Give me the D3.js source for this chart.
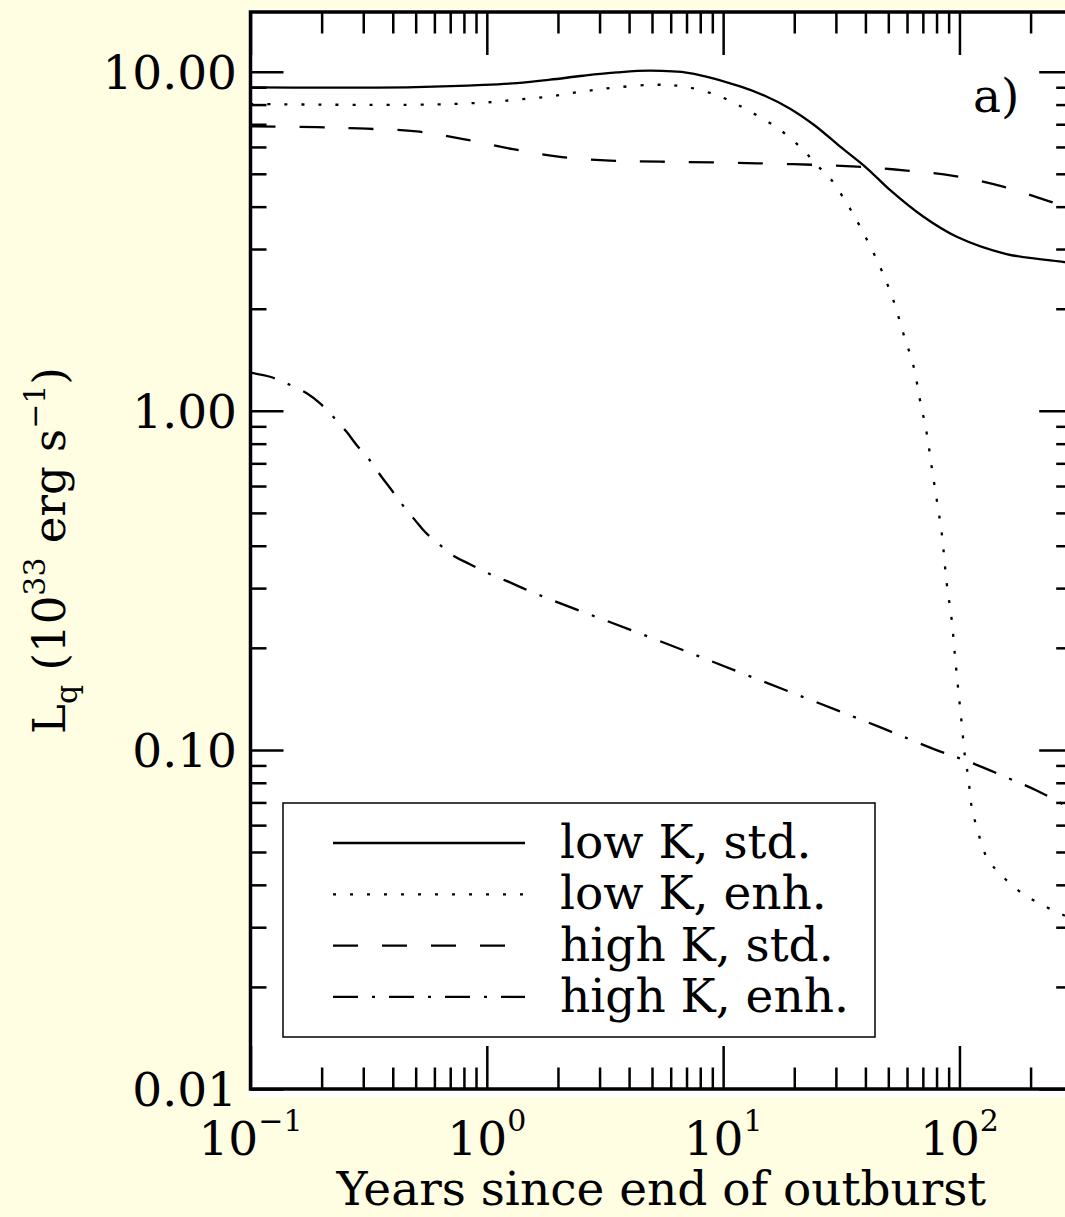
<!DOCTYPE html>
<html>
<head>
<meta charset="utf-8">
<script src="https://cdn.jsdelivr.net/npm/d3@7"></script>
<style>
    html, body { margin: 0; padding: 0; background: #fffde2; }
    svg { display: block; }
    text { font-family: "DejaVu Serif", serif; fill: #000; }
</style>
</head>
<body>
<div id="chart"></div>
<script>
// Quiescent luminosity (1e33 erg/s) vs years since end of outburst

// low K, standard cooling
const lowStdT = [0.1, 0.2, 0.5, 0.97, 1.34, 1.85, 2.56, 3.55, 4.9, 7.2, 11.8, 15.0, 19.2, 24.5, 31.2, 40.5, 50.8, 70.2, 97.4, 158, 274, 300];
const lowStdL = [8.99, 8.97, 9.01, 9.14, 9.26, 9.47, 9.73, 9.95, 10.07, 9.91, 9.05, 8.49, 7.78, 6.93, 6.02, 5.20, 4.48, 3.74, 3.26, 2.90, 2.75, 2.73];

// low K, enhanced cooling
const lowEnhT = [0.1, 0.5, 0.97, 1.34, 1.85, 2.56, 3.55, 5.07, 6.8, 9.7, 13.0, 17.4, 21.8, 24.9, 28.3, 33.3, 38.0, 46.1, 52.5, 57.9,
    63.8, 68.1, 72.7, 76.3, 80.2, 84.2, 88.4, 92.8, 95.8, 98.9, 102.3, 105.6, 109, 112.7, 118.4, 130.5, 148.5, 186, 250, 300];
const lowEnhL = [8.03, 7.99, 8.11, 8.27, 8.45, 8.75, 8.99, 9.15, 9.05, 8.45, 7.63, 6.74, 5.88, 5.31, 4.86, 4.10, 3.49, 2.66, 2.12, 1.69,
    1.36, 1.075, 0.858, 0.683, 0.545, 0.434, 0.309, 0.241, 0.188, 0.150, 0.119, 0.0952, 0.0830, 0.0677, 0.0591, 0.0482, 0.0431, 0.0376, 0.0336, 0.0318];

// high K, standard cooling
const highStdT = [0.1, 0.19, 0.31, 0.505, 0.795, 1.29, 2.08, 3.32, 5.41, 13.9, 36.8, 59.8, 94.2, 153, 242, 300];
const highStdL = [6.90, 6.86, 6.79, 6.67, 6.33, 5.91, 5.60, 5.47, 5.43, 5.37, 5.25, 5.11, 4.93, 4.58, 4.14, 3.94];

// high K, enhanced cooling
const highEnhT = [0.1, 0.121, 0.142, 0.173, 0.197, 0.224, 0.255, 0.2815, 0.315, 0.359, 0.396, 0.436, 0.497, 0.548, 0.623, 0.734,
    0.849, 1.0, 1.21, 1.68, 4.91, 13.0, 46.1, 77.5, 111, 158, 212, 280, 300];
const highEnhL = [1.295, 1.26, 1.205, 1.126, 1.051, 0.960, 0.867, 0.792, 0.724, 0.638, 0.583, 0.532, 0.476, 0.439, 0.406, 0.371,
    0.353, 0.333, 0.315, 0.2855, 0.2148, 0.1648, 0.1167, 0.1007, 0.092, 0.083, 0.0759, 0.0686, 0.0669];

const seriesNames = ['low K, std.', 'low K, enh.', 'high K, std.', 'high K, enh.'];

// axis ticks and labels
const xMajor = [0.1, 1, 10, 100];
const xExponents = ['\u22121', '0', '1', '2'];
const yMajor = [0.01, 0.1, 1, 10];
const yLabels = ['0.01', '0.10', '1.00', '10.00'];

const W = 1065, H = 1217;
const plot = { left: 250.5, right: 1072.2, top: 12, bottom: 1089 };

const svg = d3.select('#chart').append('svg')
    .attr('width', W)
    .attr('height', H);

const x = d3.scaleLog().domain([0.1, 300]).range([plot.left, plot.right]);
const y = d3.scaleLog().domain([0.01, 15]).range([plot.bottom, plot.top]);

// white plotting panel
svg.append('rect')
    .attr('x', 248).attr('y', 9)
    .attr('width', 830).attr('height', 1088)
    .attr('fill', '#fff');

svg.append('defs').append('clipPath')
    .attr('id', 'plot-clip')
    .append('rect')
    .attr('x', plot.left).attr('y', plot.top)
    .attr('width', plot.right - plot.left)
    .attr('height', plot.bottom - plot.top);

// tick marks (all pointing inward)
const xMinor = x.ticks().filter(d => !xMajor.some(m => Math.abs(m - d) < 1e-9));
const yMinor = y.ticks().filter(d => !yMajor.some(m => Math.abs(m - d) < 1e-9));

function tickAxis(axis, tx, ty) {
    const g = svg.append('g')
        .attr('transform', `translate(${tx},${ty})`)
        .call(axis.tickFormat('').tickSizeOuter(0));
    g.select('.domain').remove();
    g.selectAll('line').attr('stroke', '#000').attr('stroke-width', 2.5);
    return g;
}

tickAxis(d3.axisBottom(x).tickValues(xMinor).tickSize(-21.5), 0, plot.bottom);
tickAxis(d3.axisBottom(x).tickValues(xMajor).tickSize(-43), 0, plot.bottom);
tickAxis(d3.axisTop(x).tickValues(xMinor).tickSize(-21.5), 0, plot.top);
tickAxis(d3.axisTop(x).tickValues(xMajor).tickSize(-43), 0, plot.top);
tickAxis(d3.axisLeft(y).tickValues(yMinor).tickSize(-16), plot.left, 0);
tickAxis(d3.axisLeft(y).tickValues(yMajor).tickSize(-33), plot.left, 0);
tickAxis(d3.axisRight(y).tickValues(yMinor).tickSize(-16), plot.right, 0);
tickAxis(d3.axisRight(y).tickValues(yMajor).tickSize(-33), plot.right, 0);

// frame
svg.append('rect')
    .attr('x', plot.left).attr('y', plot.top)
    .attr('width', plot.right - plot.left)
    .attr('height', plot.bottom - plot.top)
    .attr('fill', 'none')
    .attr('stroke', '#000')
    .attr('stroke-width', 3.5);

// y tick labels
svg.selectAll('.ylab')
    .data(yMajor)
    .join('text')
    .attr('class', 'ylab')
    .attr('x', 237)
    .attr('y', d => y(d) + 17)
    .attr('text-anchor', 'end')
    .attr('font-size', 47)
    .text((d, i) => yLabels[i]);

// x tick labels as powers of ten
const xLab = svg.selectAll('.xlab')
    .data(xMajor)
    .join('text')
    .attr('class', 'xlab')
    .attr('x', d => x(d))
    .attr('y', 1155)
    .attr('text-anchor', 'middle')
    .attr('font-size', 47);
xLab.append('tspan').text('10');
xLab.append('tspan')
    .attr('dy', -24)
    .attr('font-size', 30)
    .text((d, i) => xExponents[i]);

// axis titles
svg.append('text')
    .attr('x', (plot.left + plot.right) / 2)
    .attr('y', 1205)
    .attr('text-anchor', 'middle')
    .attr('font-size', 47)
    .text('Years since end of outburst');

const yTitle = svg.append('text')
    .attr('transform', `translate(65,${(plot.top + plot.bottom) / 2}) rotate(-90)`)
    .attr('text-anchor', 'middle')
    .attr('font-size', 45);
yTitle.append('tspan').text('L');
yTitle.append('tspan').attr('dy', 12).attr('font-size', 30).text('q');
yTitle.append('tspan').attr('dy', -12).text(' (10');
yTitle.append('tspan').attr('dy', -20).attr('font-size', 30).text('33');
yTitle.append('tspan').attr('dy', 20).text(' erg s');
yTitle.append('tspan').attr('dy', -20).attr('font-size', 30).text('\u22121');
yTitle.append('tspan').attr('dy', 20).text(')');

// panel tag
svg.append('text')
    .attr('x', 973)
    .attr('y', 112)
    .attr('font-size', 47)
    .text('a)');

// curves
const series = [
    { name: seriesNames[0], t: lowStdT, L: lowStdL, dash: null },
    { name: seriesNames[1], t: lowEnhT, L: lowEnhL, dash: '3,14' },
    { name: seriesNames[2], t: highStdT, L: highStdL, dash: '25,24' },
    { name: seriesNames[3], t: highEnhT, L: highEnhL, dash: '25,14,3,14' }
];

const line = d3.line()
    .x(d => x(d[0]))
    .y(d => y(d[1]))
    .curve(d3.curveCatmullRom.alpha(0.5));

const curves = svg.append('g').attr('clip-path', 'url(#plot-clip)');
series.forEach(s => {
    curves.append('path')
        .datum(s.t.map((t, i) => [t, s.L[i]]))
        .attr('d', line)
        .attr('fill', 'none')
        .attr('stroke', '#000')
        .attr('stroke-width', 2.3)
        .attr('stroke-dasharray', s.dash);
});

// legend
const legend = svg.append('g');
legend.append('rect')
    .attr('x', 283).attr('y', 803)
    .attr('width', 592).attr('height', 234)
    .attr('fill', '#fff')
    .attr('stroke', '#000')
    .attr('stroke-width', 1.5);

series.forEach((s, i) => {
    const ly = 843 + i * 51.3;
    legend.append('line')
        .attr('x1', 333).attr('x2', 525)
        .attr('y1', ly).attr('y2', ly)
        .attr('stroke', '#000')
        .attr('stroke-width', 2.3)
        .attr('stroke-dasharray', s.dash);
    legend.append('text')
        .attr('x', 560)
        .attr('y', ly + 15)
        .attr('font-size', 47)
        .text(s.name);
});
</script>
</body>
</html>
